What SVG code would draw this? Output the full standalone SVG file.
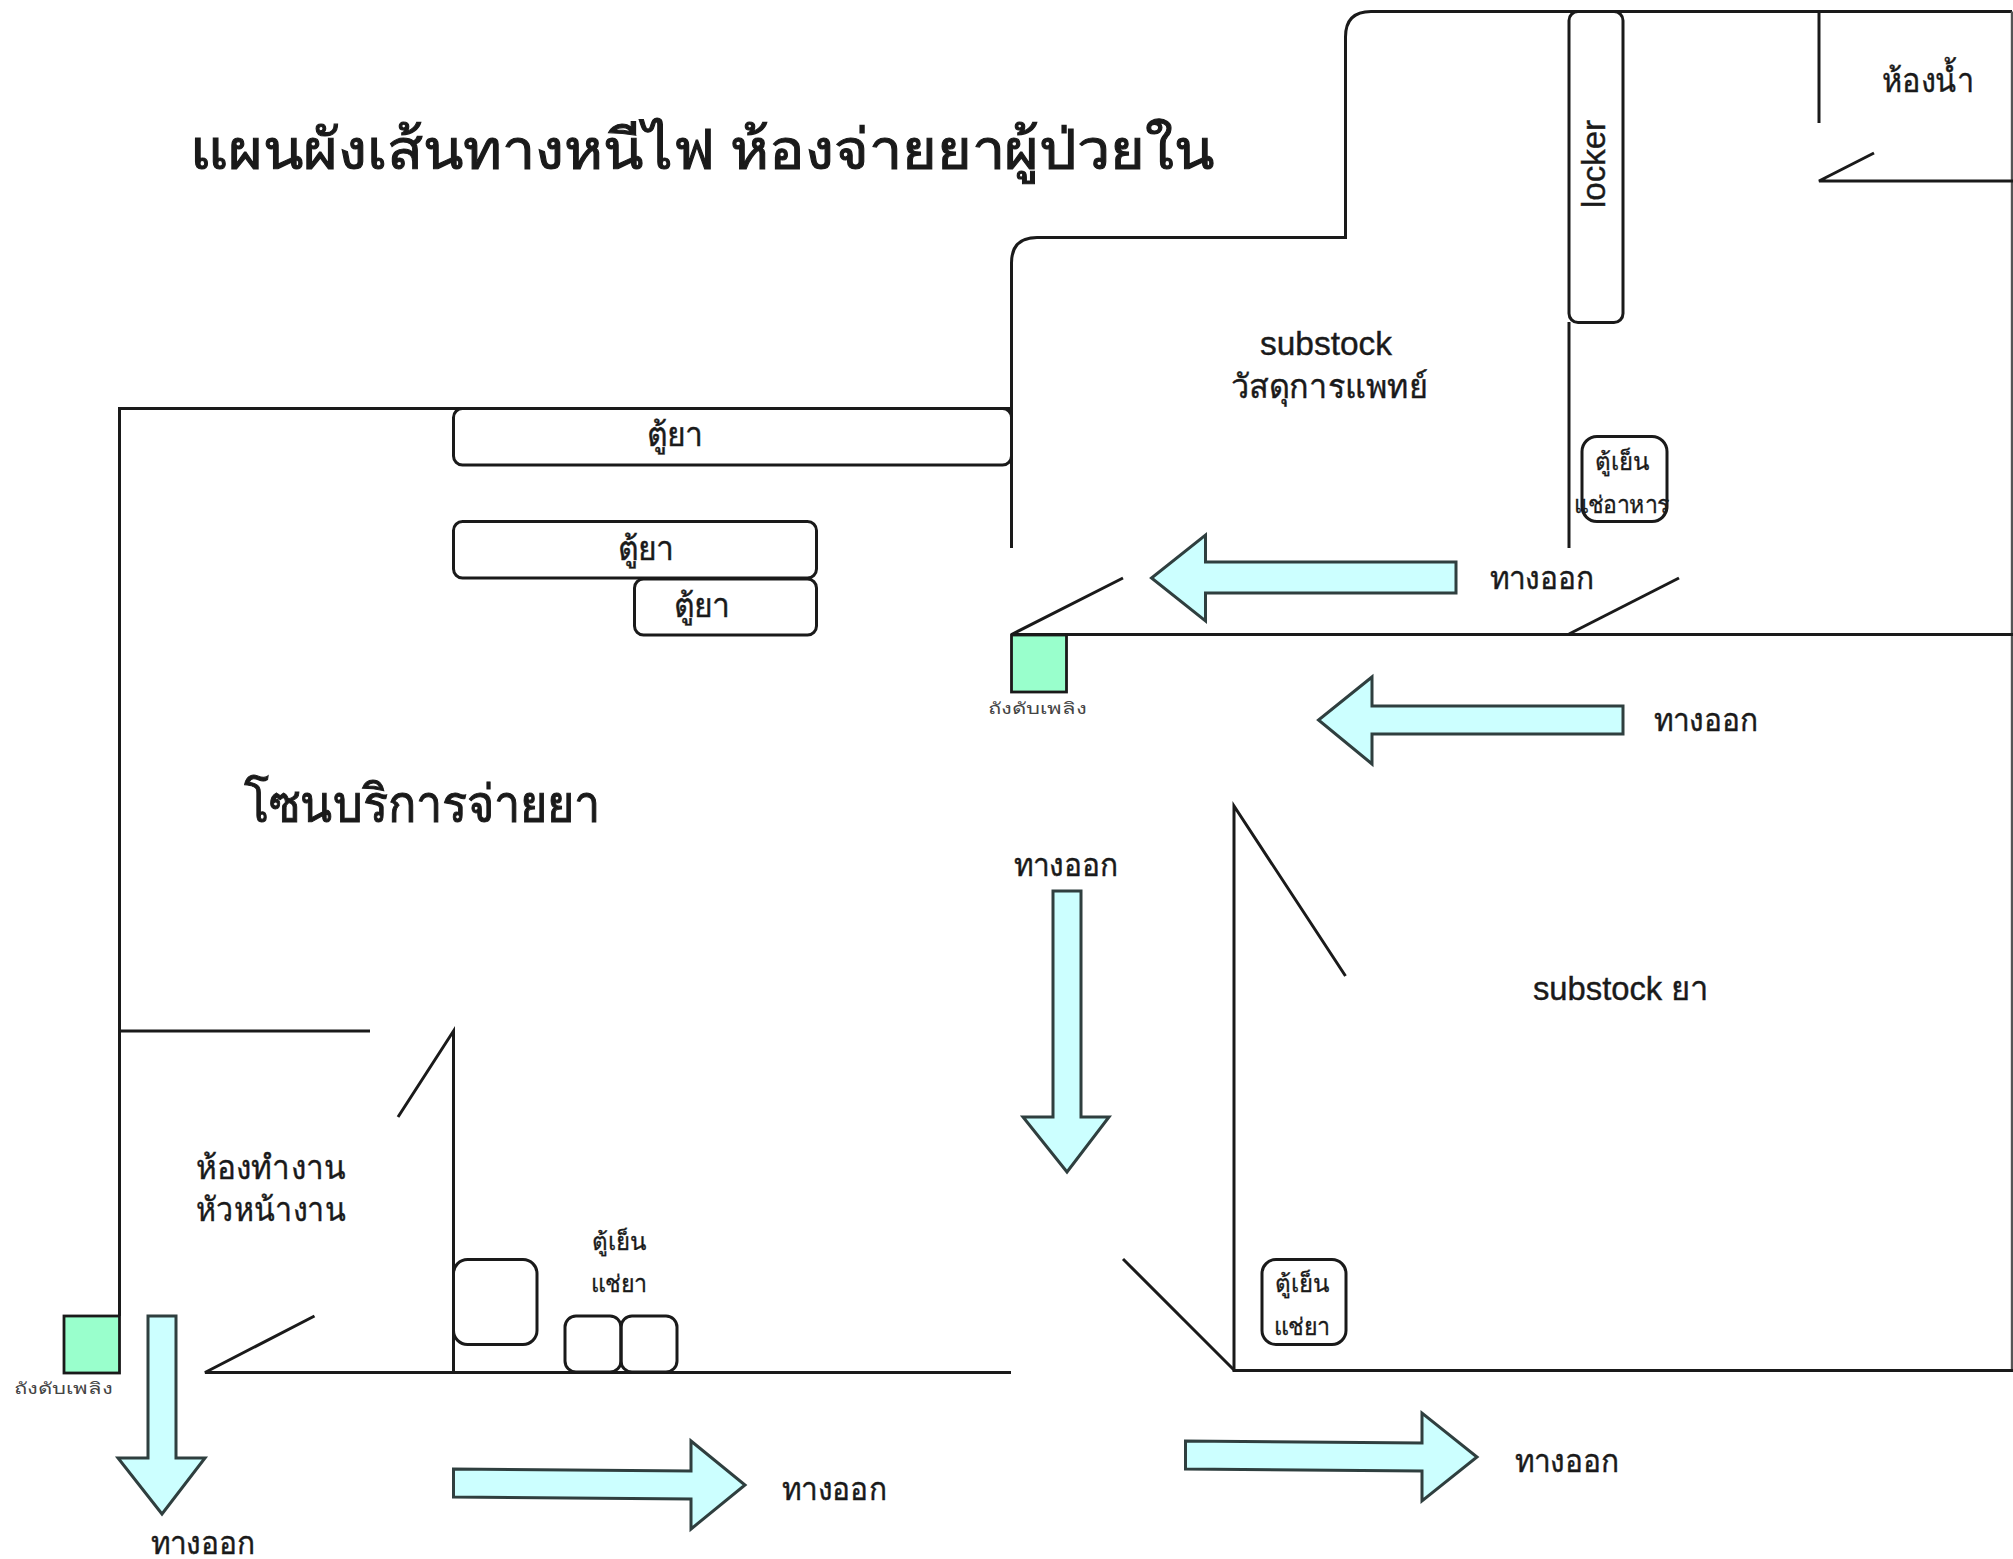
<svg xmlns="http://www.w3.org/2000/svg" width="2013" height="1559" viewBox="0 0 2013 1559">
<style>
text{font-family:"Noto Sans","DejaVu Sans","Liberation Sans",sans-serif;fill:#1a1a1a;text-anchor:middle}
.w{fill:none;stroke:#1a1a1a;stroke-width:3}
.v{fill:none;stroke:#555;stroke-width:2.4}
.r{fill:#fff;stroke:#1a1a1a;stroke-width:3}
.a{fill:#ccffff;stroke:#2f3f3f;stroke-width:3;stroke-linejoin:miter}
.g{fill:#99ffcc;stroke:#1a1a1a;stroke-width:2.8}
.t{font-size:56px;stroke:#1a1a1a;stroke-width:1.1}
.z{font-size:52px;stroke:#1a1a1a;stroke-width:1}
.m{font-size:33px;stroke:#1a1a1a;stroke-width:.4}
.e{font-size:31px;stroke:#1a1a1a;stroke-width:.4}
.s{font-size:24px;stroke:#1a1a1a;stroke-width:.3}
.x{font-size:16px;fill:#444}
.l{font-family:"Liberation Sans",sans-serif}
</style>
<rect width="2013" height="1559" fill="#fff"/>
<g id="connectors">
<path class="w" d="M1011.500 548V263Q1011.500 237.500 1037 237.500H1345.500V37Q1345.500 11.500 1371 11.500H2012"/>
<path class="v" d="M2012 11.500V1372"/>
<path class="w" d="M1011.500 408.500H119.500V1316"/>
<path class="w" d="M119.500 1031H370"/>
<path class="w" d="M398 1117L453.500 1031V1372"/>
<path class="w" d="M314.500 1316L205 1372.500H1011"/>
<path class="w" d="M1123 578L1011.500 634.500H2013"/>
<path class="w" d="M1569 322V548"/>
<path class="w" d="M1819 12V123"/>
<path class="w" d="M1874 153L1819 181H2013"/>
<path class="w" d="M1569 634L1679 578"/>
<path class="w" d="M1345.500 976L1234 806V1370.500H2013"/>
<path class="w" d="M1234 1370L1123 1259"/>
</g>
<g id="title"><text class="t" x="702" y="169" textLength="1024" lengthAdjust="spacingAndGlyphs">แผนผังเส้นทางหนีไฟ ห้องจ่ายยาผู้ป่วยใน</text></g>
<g id="zone"><text class="z" x="422" y="822" textLength="357" lengthAdjust="spacingAndGlyphs">โซนบริการจ่ายยา</text></g>
<g id="cabinet-1"><rect class="r" x="453.500" y="408.500" width="558" height="56.500" rx="9"/><text class="m" x="675" y="446" textLength="57" lengthAdjust="spacingAndGlyphs">ตู้ยา</text></g>
<g id="cabinet-2"><rect class="r" x="453.500" y="521.500" width="363" height="56.500" rx="9"/><text class="m" x="646" y="560" textLength="57" lengthAdjust="spacingAndGlyphs">ตู้ยา</text></g>
<g id="cabinet-3"><rect class="r" x="634.500" y="579" width="182" height="56" rx="9"/><text class="m" x="702" y="617" textLength="57" lengthAdjust="spacingAndGlyphs">ตู้ยา</text></g>
<g id="locker"><rect class="r" x="1569" y="11.500" width="54" height="311" rx="9"/><text class="m l" transform="translate(1605 164) rotate(-90)" textLength="88" lengthAdjust="spacingAndGlyphs">locker</text></g>
<g id="bathroom"><text class="m" x="1928" y="92" textLength="93" lengthAdjust="spacingAndGlyphs">ห้องน้ำ</text></g>
<g id="substock-supplies"><text class="m l" x="1326" y="355" textLength="132" lengthAdjust="spacingAndGlyphs">substock</text><text class="m" x="1329" y="398" textLength="197" lengthAdjust="spacingAndGlyphs">วัสดุการแพทย์</text></g>
<g id="food-fridge"><rect class="w" x="1582" y="436.500" width="85" height="85" rx="15"/><text class="s" x="1621.500" y="470" textLength="54" lengthAdjust="spacingAndGlyphs">ตู้เย็น</text><text class="s" x="1621.500" y="513" textLength="96" lengthAdjust="spacingAndGlyphs">แช่อาหาร</text></g>
<g id="extinguisher-1"><rect class="g" x="1011.500" y="635" width="55" height="57"/><text class="x" x="1037" y="714" textLength="99" lengthAdjust="spacingAndGlyphs">ถังดับเพลิง</text></g>
<g id="extinguisher-2"><rect class="g" x="64" y="1316" width="55.500" height="57"/><text class="x" x="63" y="1394" textLength="99" lengthAdjust="spacingAndGlyphs">ถังดับเพลิง</text></g>
<g id="exit-1"><path class="a" d="M1456 562V593H1205.500V621L1151.500 578L1205.500 535V562Z"/><text class="e" x="1542" y="589" textLength="105" lengthAdjust="spacingAndGlyphs">ทางออก</text></g>
<g id="exit-2"><path class="a" d="M1623 706V734H1372V764L1318.500 720L1372 677V706Z"/><text class="e" x="1706" y="731" textLength="105" lengthAdjust="spacingAndGlyphs">ทางออก</text></g>
<g id="exit-3"><path class="a" d="M1053 891H1081V1117H1109L1067 1172L1023 1117H1053Z"/><text class="e" x="1066" y="876" textLength="105" lengthAdjust="spacingAndGlyphs">ทางออก</text></g>
<g id="exit-4"><path class="a" d="M1185.500 1441V1469L1422 1471V1501L1477 1457L1422 1413V1443Z"/><text class="e" x="1567" y="1472" textLength="105" lengthAdjust="spacingAndGlyphs">ทางออก</text></g>
<g id="exit-5"><path class="a" d="M453.500 1469V1497L691 1499V1529L745 1485L691 1441V1471Z"/><text class="e" x="834.500" y="1500" textLength="105" lengthAdjust="spacingAndGlyphs">ทางออก</text></g>
<g id="exit-6"><path class="a" d="M148 1316H176V1458H205L162 1514L118 1458H148Z"/><text class="e" x="203" y="1554" textLength="105" lengthAdjust="spacingAndGlyphs">ทางออก</text></g>
<g id="substock-drugs"><text class="m l" x="1621" y="1000" textLength="176" lengthAdjust="spacingAndGlyphs" style="font-family:'Liberation Sans','Noto Sans',sans-serif">substock ยา</text></g>
<g id="head-office"><text class="m" x="271" y="1179" textLength="150" lengthAdjust="spacingAndGlyphs">ห้องทำงาน</text><text class="m" x="271" y="1221" textLength="150" lengthAdjust="spacingAndGlyphs">หัวหน้างาน</text></g>
<g id="box"><rect class="w" x="453.500" y="1259.500" width="83.500" height="85" rx="14"/></g>
<g id="drug-fridge-1"><rect class="w" x="565" y="1316" width="56" height="56" rx="11"/><rect class="w" x="621" y="1316" width="56" height="56" rx="11"/><text class="s" x="619" y="1250" textLength="54" lengthAdjust="spacingAndGlyphs">ตู้เย็น</text><text class="s" x="619" y="1292" textLength="56" lengthAdjust="spacingAndGlyphs">แช่ยา</text></g>
<g id="drug-fridge-2"><rect class="w" x="1262" y="1259.500" width="84" height="85" rx="14"/><text class="s" x="1302" y="1292" textLength="54" lengthAdjust="spacingAndGlyphs">ตู้เย็น</text><text class="s" x="1302" y="1335" textLength="56" lengthAdjust="spacingAndGlyphs">แช่ยา</text></g>
</svg>
